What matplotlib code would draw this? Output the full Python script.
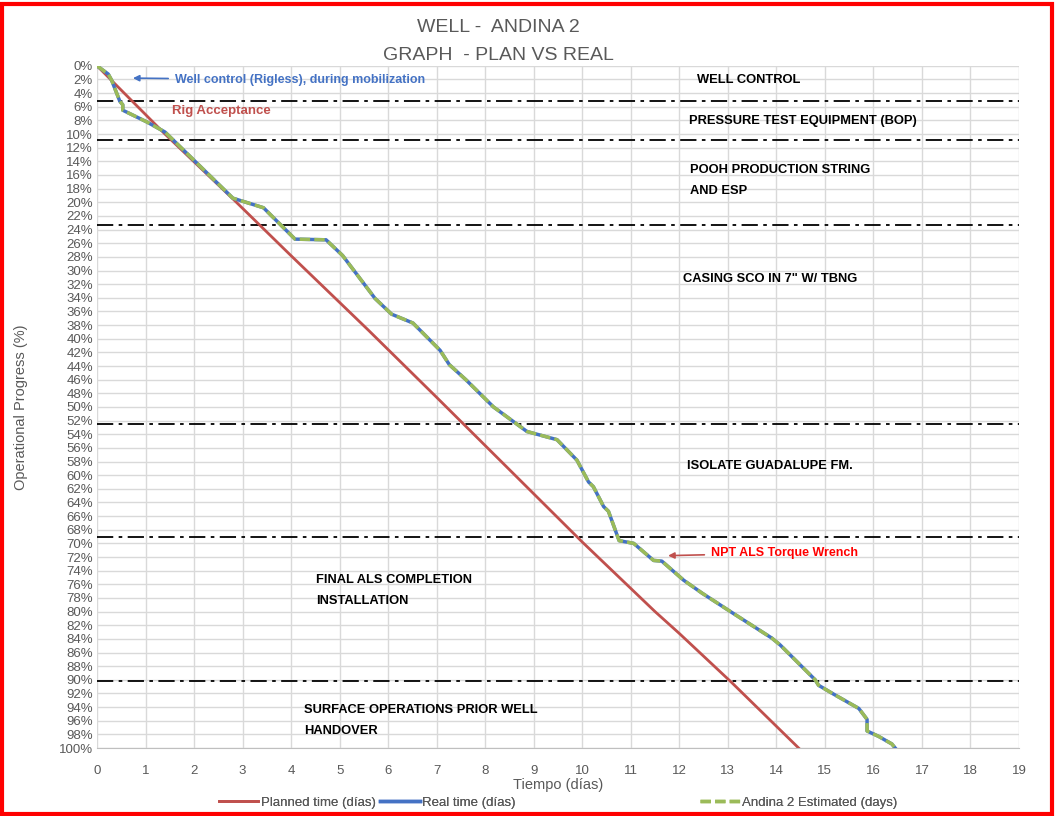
import matplotlib
matplotlib.use('Agg')
import matplotlib.pyplot as plt
import matplotlib.ticker as ticker
from matplotlib.patches import Rectangle

plt.rcParams['font.family'] = ['Liberation Sans', 'DejaVu Sans']

# Planned schedule (days, % progress)
planned_days = [0, 1.4, 2.8, 3.98, 5.6, 7.0, 8.5, 10.0, 11.5, 12.0, 13.08, 14.46]
planned_pct = [0, 10, 19.5, 27.7, 38.8, 48.6, 59.2, 69.8, 80.0, 83.2, 90.4, 100]

# Real / estimated progress (same curve)
real_days = [0, 0.23, 0.3, 0.47, 0.53, 0.53, 1.02, 1.40, 2.80, 3.43, 4.08, 4.72, 5.06,
             5.73, 6.07, 6.51, 7.07, 7.26, 7.60, 8.17, 8.86, 9.48, 9.89, 10.13, 10.23,
             10.44, 10.54, 10.76, 11.06, 11.47, 11.64, 12.09, 12.47, 13.12, 13.91,
             14.08, 14.80, 14.87, 15.18, 15.70, 15.87, 15.87, 16.11, 16.38, 16.45]
real_pct = [0, 1.2, 2.1, 5.2, 5.7, 6.5, 8.2, 9.7, 19.4, 20.8, 25.4, 25.5, 27.8,
            34.1, 36.4, 37.7, 41.7, 43.8, 46.0, 50.0, 53.6, 54.8, 57.8, 61.0, 61.7,
            64.6, 65.3, 69.6, 70.0, 72.5, 72.6, 75.4, 77.3, 80.3, 83.9,
            84.9, 90.0, 90.8, 92.1, 94.2, 95.8, 97.5, 98.3, 99.4, 100]

# Phase boundaries (%)
phase_lines = [5.1, 10.9, 23.3, 52.5, 69.1, 90.2]

phase_labels = [
    (12.37, 2.05, 'WELL CONTROL'),
    (12.2, 8.1, 'PRESSURE TEST EQUIPMENT (BOP)'),
    (12.23, 16.8, 'POOH PRODUCTION STRING\nAND ESP'),
    (12.08, 31.2, 'CASING SCO IN 7" W/ TBNG'),
    (12.16, 58.7, 'ISOLATE GUADALUPE FM.'),
    (4.52, 76.9, 'FINAL ALS COMPLETION\nINSTALLATION'),
    (4.27, 96.0, 'SURFACE OPERATIONS PRIOR WELL\nHANDOVER'),
]

fig = plt.figure(figsize=(10.56, 8.16), dpi=100)
ax = fig.add_axes([0.0919, 0.0833, 0.873, 0.836])

l1, = ax.plot(planned_days, planned_pct, color='#C0504D', lw=2, zorder=4)
l2, = ax.plot(real_days, real_pct, color='#4472C4', lw=2.5, zorder=5)
l3, = ax.plot(real_days, real_pct, color='#9BBB59', lw=2.5, ls=(0, (3, 1.2)), zorder=6)

for y in phase_lines:
    ax.axhline(y, color='black', lw=1.3, ls=(0, (9, 3, 2, 3)), zorder=3)

for x, y, txt in phase_labels:
    ax.text(x, y, txt, fontsize=9.3, fontweight='bold', color='black',
            va='center', ha='left', linespacing=2.0)

ax.annotate('Well control (Rigless), during mobilization', xy=(0.74, 1.8), xytext=(1.61, 2.05),
            color='#4472C4', fontsize=9, fontweight='bold', va='center',
            arrowprops=dict(arrowstyle='-|>', color='#4472C4', lw=1.2, shrinkA=3, shrinkB=0))
ax.text(1.55, 6.6, 'Rig Acceptance', color='#C0504D', fontsize=9.5, fontweight='bold', va='center')
ax.annotate('NPT ALS Torque Wrench', xy=(11.77, 71.8), xytext=(12.66, 71.4),
            color='#FF0000', fontsize=9, fontweight='bold', va='center',
            arrowprops=dict(arrowstyle='-|>', color='#C0504D', lw=1.2, shrinkA=3, shrinkB=0))

ax.set_xlim(0, 19)
ax.set_ylim(100, 0)
ax.xaxis.set_major_locator(ticker.MultipleLocator(1))
ax.yaxis.set_major_locator(ticker.MultipleLocator(2))
ax.yaxis.set_major_formatter(ticker.FuncFormatter(lambda v, p: f'{int(round(v))}%'))
ax.grid(True, color='#D9D9D9', lw=1)
ax.set_axisbelow(True)
for s in ['top', 'right', 'left']:
    ax.spines[s].set_visible(False)
ax.spines['bottom'].set_color('#BFBFBF')
ax.tick_params(length=0, labelsize=9.5, colors='#595959', pad=3)
ax.tick_params(axis='x', pad=12)

ax.set_xlabel('Tiempo (días)', fontsize=10.5, color='#595959', labelpad=1)
ax.set_ylabel('Operational Progress (%)', fontsize=10.5, color='#595959', labelpad=22)

fig.text(0.472, 0.966, 'WELL -  ANDINA 2', ha='center', va='center', fontsize=14, color='#595959')
fig.text(0.472, 0.932, 'GRAPH  - PLAN VS REAL', ha='center', va='center', fontsize=14, color='#595959')

entries = [(l1, 'Planned time (días)', 0.207), (l2, 'Real time (días)', 0.360),
           (l3, 'Andina 2 Estimated (days)', 0.663)]
for h, lab, xpos in entries:
    lg = fig.legend([h], [lab], loc='center left', bbox_to_anchor=(xpos, 0.016), frameon=False,
                    fontsize=9.5, handlelength=3.0, handletextpad=0.2, borderpad=0, borderaxespad=0)
    for t in lg.get_texts():
        t.set_color('#595959')
    fig.add_artist(lg)

fig.patches.append(Rectangle((0.002, 0.003), 0.994, 0.992, transform=fig.transFigure,
                             fill=False, edgecolor='red', lw=3))

fig.savefig('out.png', dpi=100)
